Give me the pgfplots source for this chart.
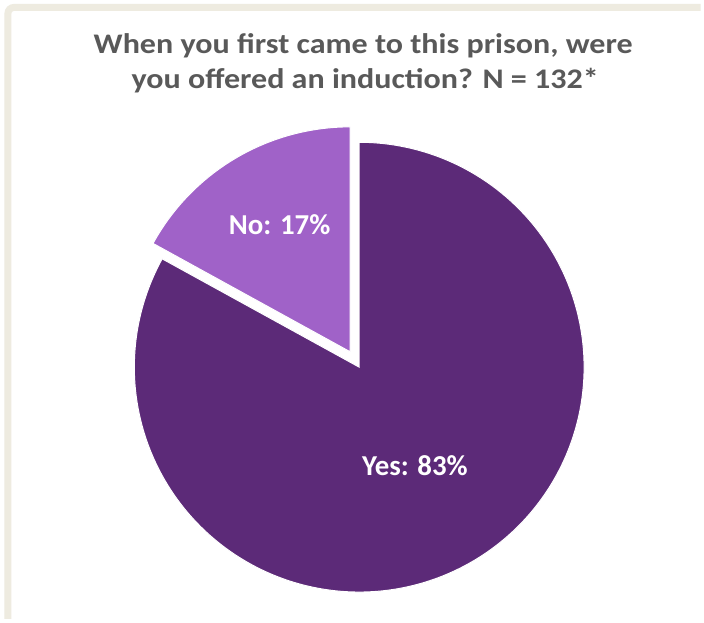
\documentclass[border=0pt]{standalone}
\usepackage{pgfplots}
\pgfplotsset{compat=1.18}
\usepackage{pgfplotstable}
\usepackage{fontspec}
\setmainfont{Carlito}
\newfontfamily\titlefont[FakeStretch=1.13]{Carlito}
\definecolor{yescol}{RGB}{92,42,120}
\definecolor{nocol}{RGB}{160,98,200}
\definecolor{titlecol}{RGB}{89,89,89}
\definecolor{frame}{RGB}{238,235,224}
\pgfplotstableread{
label value
Yes 83
No 17
}\piedata
\pgfplotstablegetelem{0}{value}\of\piedata \let\yesval\pgfplotsretval
\pgfplotstablegetelem{1}{value}\of\piedata \let\noval\pgfplotsretval
\pgfmathsetmacro\noend{90+3.6*\noval}
\pgfmathsetmacro\yesend{\noend+3.6*\yesval}
\pgfmathsetmacro\nomid{(90+\noend)/2}
\pgfmathsetmacro\cx{361}
\pgfmathsetmacro\cy{253}
\pgfmathsetmacro\R{226}
\pgfmathsetmacro\ncx{\cx+18*cos(\nomid)}
\pgfmathsetmacro\ncy{\cy+18*sin(\nomid)}
\begin{document}
\begin{tikzpicture}
\begin{axis}[x=1pt,y=1pt,xmin=0,xmax=704,ymin=0,ymax=622,hide axis,clip=false,
  scale only axis]
\fill[white] (axis cs:0,0) rectangle (axis cs:704,622);
\draw[line width=7pt, frame, rounded corners=6pt] (axis cs:8,0) |- (axis cs:704,614.5);
\addplot[fill=yescol, draw=white, line width=1pt, domain=\noend:\yesend, samples=300]
  ({\cx+\R*cos(x)},{\cy+\R*sin(x)}) -- (axis cs:\cx,\cy) -- cycle;
\addplot[fill=nocol, draw=white, line width=1pt, domain=90:\noend, samples=100]
  ({\ncx+\R*cos(x)},{\ncy+\R*sin(x)}) -- (axis cs:\ncx,\ncy) -- cycle;
\node[anchor=base, text=titlecol, font=\titlefont\fontsize{28.5}{34}\selectfont\bfseries] at (axis cs:365,568.7) {When you first came to this prison, were};
\node[anchor=base, text=titlecol, font=\titlefont\fontsize{28.5}{34}\selectfont\bfseries] at (axis cs:367,533.5) {you offered an induction? N = 132*};
\node[anchor=base, text=white, font=\fontsize{29}{34}\selectfont\bfseries] at (axis cs:281,386) {No: 17\%};
\node[anchor=base, text=white, font=\fontsize{29}{34}\selectfont\bfseries] at (axis cs:417,144) {Yes: 83\%};
\end{axis}
\end{tikzpicture}
\end{document}
